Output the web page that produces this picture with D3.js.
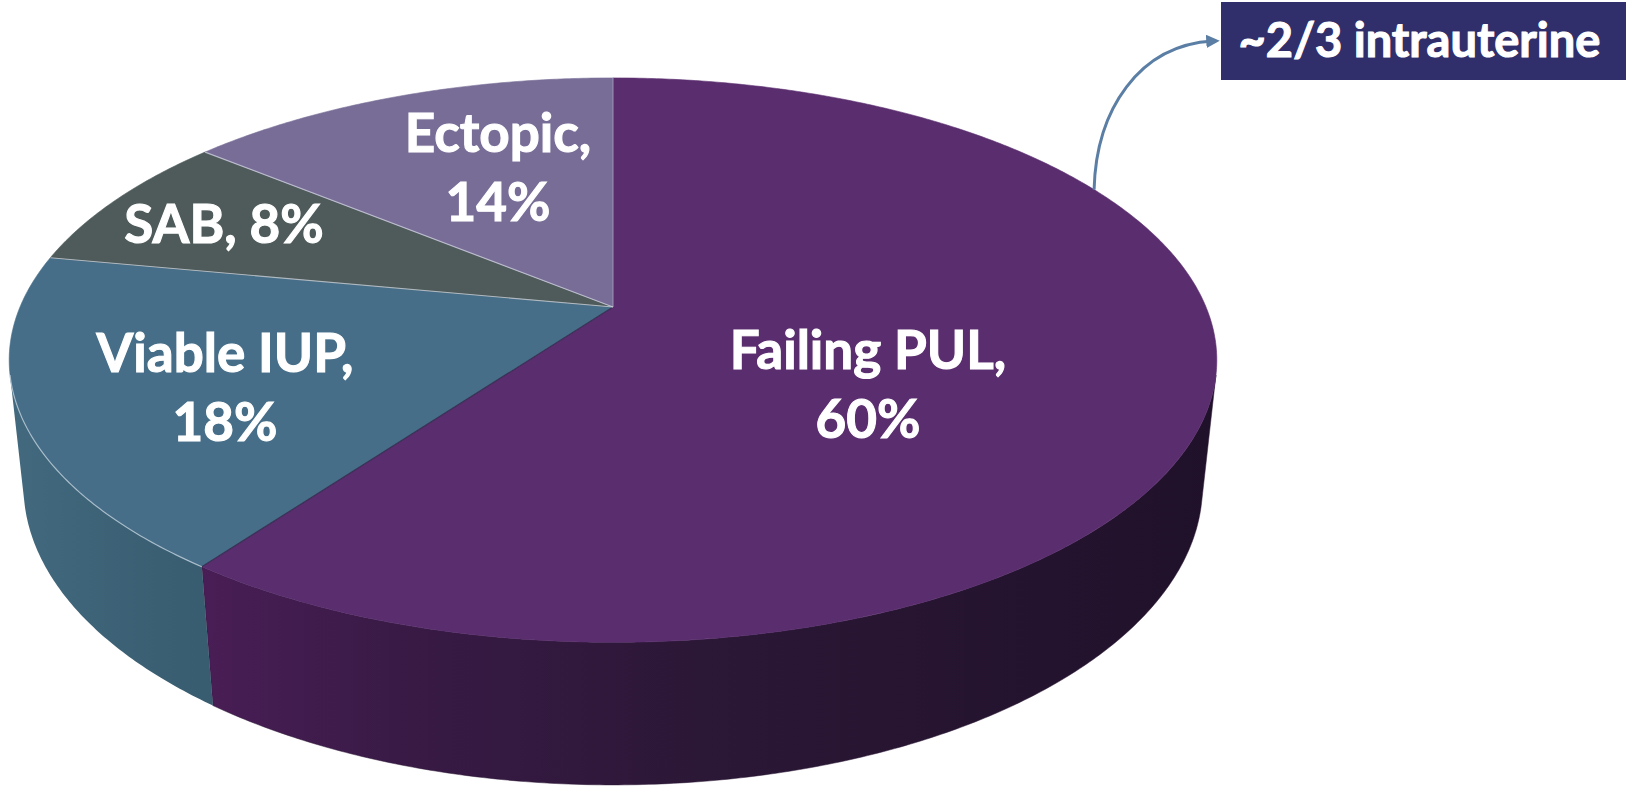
<!DOCTYPE html>
<html>
<head>
<meta charset="utf-8">
<script src="https://cdn.jsdelivr.net/npm/d3@7"></script>
<style>
  body { margin: 0; background: #fff; }
  svg { display: block; }
  text { font-family: Lato, "Open Sans", sans-serif; font-weight: 700; fill: #fff; stroke: #fff; stroke-width: 1.1px; }
</style>
</head>
<body>
<div id="chart"></div>
<script>
// data
var categories = ["Failing PUL", "Viable IUP", "SAB", "Ectopic"];
var values = [60, 18, 8, 14];
var topColors = ["#5a2d6e", "#466e88", "#4e5b5a", "#786d97"];
var sideColors = ["url(#sidePul)", "url(#sideIup)", "#3f4a49", "#5f5679"];
var labelLines = [["Failing PUL,", "60%"], ["Viable IUP,", "18%"], ["SAB, 8%"], ["Ectopic,", "14%"]];
var calloutText = "~2/3 intrauterine";

var svgWidth = 1632;
var svgHeight = 789;

// perspective camera for the tilted disk
var cx = 613, cy = 307;
var focal = 2799, dist = 4.72, thick = 0.241;
var sinP = 0.459, cosP = Math.sqrt(1 - sinP * sinP);

// theta: clockwise from the far (12 o'clock) point, r: 0..1, y: 0 top, -thick bottom
function proj(theta, r, y) {
  var x = r * Math.sin(theta), z = -r * Math.cos(theta);
  var depth = dist - y * sinP - z * cosP;
  return [cx + focal * x / depth, cy + focal * (z * sinP - y * cosP) / depth];
}

// side wall faces the viewer where cos(theta) < -R/(d cos phi)
var visLimit = Math.acos(-1 / (dist * cosP));
var vis0 = visLimit, vis1 = 2 * Math.PI - visLimit;

var svg = d3.select("#chart").append("svg")
  .attr("width", svgWidth)
  .attr("height", svgHeight);

var defs = svg.append("defs");

var gPul = defs.append("linearGradient")
  .attr("id", "sidePul")
  .attr("gradientUnits", "userSpaceOnUse")
  .attr("x1", 190).attr("x2", 1220).attr("y1", 0).attr("y2", 0);
gPul.append("stop").attr("offset", 0).attr("stop-color", "#4a1e57");
gPul.append("stop").attr("offset", 0.2).attr("stop-color", "#391a46");
gPul.append("stop").attr("offset", 0.5).attr("stop-color", "#2b1736");
gPul.append("stop").attr("offset", 1).attr("stop-color", "#20112a");

var gIup = defs.append("linearGradient")
  .attr("id", "sideIup")
  .attr("gradientUnits", "userSpaceOnUse")
  .attr("x1", 10).attr("x2", 200).attr("y1", 0).attr("y2", 0);
gIup.append("stop").attr("offset", 0).attr("stop-color", "#42697e");
gIup.append("stop").attr("offset", 1).attr("stop-color", "#385c70");

defs.append("marker")
  .attr("id", "arrowHead")
  .attr("viewBox", "0 0 10 10")
  .attr("refX", 5).attr("refY", 5)
  .attr("markerWidth", 4.5).attr("markerHeight", 4.5)
  .attr("orient", "auto")
  .append("path")
  .attr("d", "M0,0 L10,5 L0,10 Z")
  .attr("fill", "#5b7ea5");

var pie = d3.pie().sort(null).value(d => d.value);
var slices = pie(categories.map((c, i) => ({ name: c, value: values[i], i: i })));

var line = d3.line();
var step = Math.PI / 360;

function arcPoints(a0, a1, r, y) {
  var pts = [];
  var n = Math.max(2, Math.ceil((a1 - a0) / step));
  for (var k = 0; k <= n; k++) pts.push(proj(a0 + (a1 - a0) * k / n, r, y));
  return pts;
}

// side walls
var sideG = svg.append("g");
slices.forEach(function(s) {
  var a = Math.max(s.startAngle, vis0), b = Math.min(s.endAngle, vis1);
  if (b <= a) return;
  var pts = arcPoints(a, b, 1, 0).concat(arcPoints(a, b, 1, -thick).reverse());
  sideG.append("path")
    .attr("d", line(pts) + "Z")
    .attr("fill", sideColors[s.data.i])
    .attr("stroke", s.data.i === 0 ? "#2a1634" : "none")
    .attr("stroke-width", 0.5);
});

// top faces
var topG = svg.append("g");
slices.forEach(function(s) {
  var pts = [proj(0, 0, 0)].concat(arcPoints(s.startAngle, s.endAngle, 1, 0));
  topG.append("path")
    .attr("d", line(pts) + "Z")
    .attr("fill", topColors[s.data.i])
    .attr("stroke", topColors[s.data.i])
    .attr("stroke-width", 0.6);
});

// separators on the top face: light between the small slices, dark next to PUL
slices.forEach(function(s) {
  var p0 = proj(0, 0, 0), p1 = proj(s.endAngle, 1, 0);
  var isPulEdge = s.data.i === 0;
  var isLast = s.endAngle >= 2 * Math.PI - 1e-6;
  topG.append("line")
    .attr("x1", p0[0]).attr("y1", p0[1])
    .attr("x2", p1[0]).attr("y2", p1[1])
    .attr("stroke", isPulEdge ? "#36224a" : "#d6dbe6")
    .attr("stroke-opacity", isPulEdge ? 0.8 : (isLast ? 0.35 : 0.7))
    .attr("stroke-width", 1.2);
});

// rim highlight on the Viable IUP front edge
var iup = slices[1];
topG.append("path")
  .attr("d", line(arcPoints(iup.startAngle, Math.min(iup.endAngle, vis1), 1, 0)))
  .attr("fill", "none")
  .attr("stroke", "#c9d6e0")
  .attr("stroke-opacity", 0.7)
  .attr("stroke-width", 1.2);

// labels
var labelAt = { "Failing PUL": [868, 369], "Viable IUP": [225, 372], "SAB": [224, 243], "Ectopic": [498, 152] };
var lineGap = 69;
slices.forEach(function(s) {
  var pos = labelAt[s.data.name];
  var t = svg.append("text")
    .attr("text-anchor", "middle")
    .attr("font-size", "53px");
  labelLines[s.data.i].forEach(function(l, k) {
    t.append("tspan")
      .attr("x", pos[0])
      .attr("y", pos[1] + k * lineGap)
      .text(l);
  });
});

// callout arrow + box
var boxX = 1221, boxY = 2, boxW = 405, boxH = 78;
var start = proj(62 * Math.PI / 180, 1, 0);
var endX = boxX - 8, endY = boxY + boxH / 2;
svg.append("path")
  .attr("d", `M${start[0]},${start[1]} C${start[0] + 2},${start[1] - 80} ${start[0] + 45},${endY + 4} ${endX},${endY}`)
  .attr("fill", "none")
  .attr("stroke", "#5b7ea5")
  .attr("stroke-width", 3)
  .attr("marker-end", "url(#arrowHead)");

svg.append("rect")
  .attr("x", boxX).attr("y", boxY)
  .attr("width", boxW).attr("height", boxH)
  .attr("fill", "#302f6b");

svg.append("text")
  .attr("x", boxX + boxW / 2 - 4)
  .attr("y", boxY + 55)
  .attr("text-anchor", "middle")
  .attr("font-size", "47px")
  .text(calloutText);
</script>
</body>
</html>
